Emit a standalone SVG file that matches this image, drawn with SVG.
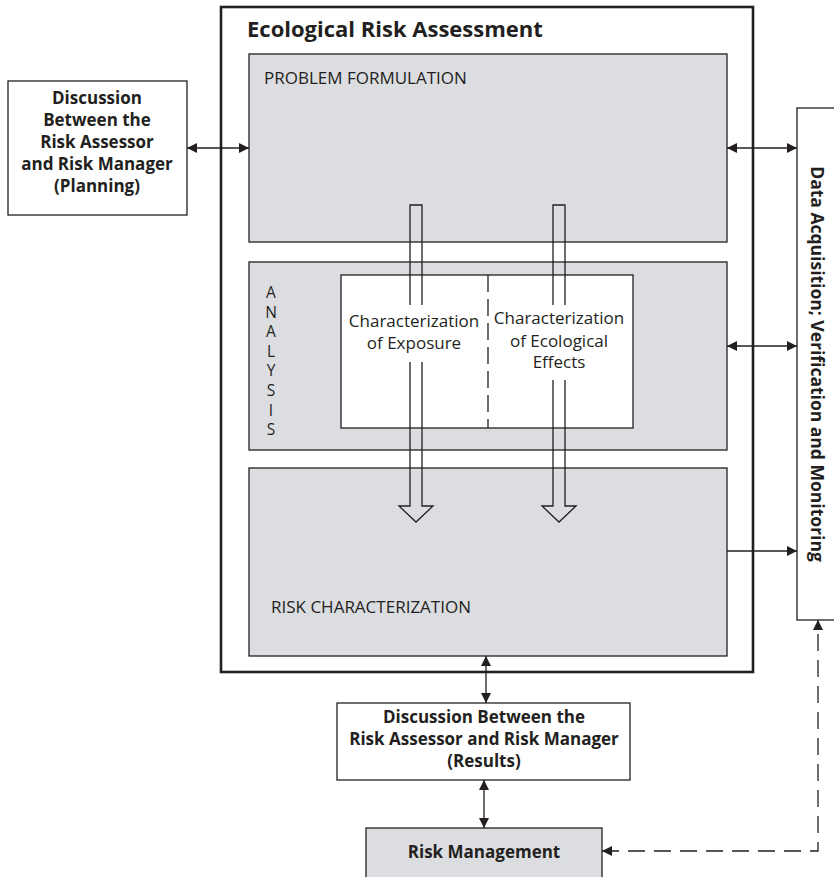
<svg xmlns="http://www.w3.org/2000/svg" width="834" height="877" viewBox="0 0 834 877">
<style>
text{font-family:"Open Sans","Liberation Sans",sans-serif;fill:#231f20}
.b{font-weight:bold;font-size:17px}
.n{font-size:17px}
.box{fill:#fff;stroke:#231f20;stroke-width:1.3}
.g{fill:#dcdde0;stroke:#231f20;stroke-width:1.3}
.ln{fill:none;stroke:#231f20;stroke-width:1.3}
</style>
<defs>
<marker id="ah" viewBox="0 0 10 10" refX="10" refY="5" markerWidth="10" markerHeight="10" markerUnits="userSpaceOnUse" orient="auto-start-reverse">
<path d="M0,0 L10,5 L0,10 Z" fill="#231f20"/>
</marker>
</defs>
<rect x="0" y="0" width="834" height="877" fill="#fff"/>

<g id="outer">
<rect x="221" y="7" width="532" height="665" fill="#fff" stroke="#231f20" stroke-width="2.6"/>
<text x="247" y="37" style="font-weight:bold;font-size:22px">Ecological Risk Assessment</text>
</g>

<g id="problem-formulation">
<rect class="g" x="249" y="54" width="478" height="188"/>
<text class="n" x="264" y="84">PROBLEM FORMULATION</text>
</g>

<g id="analysis">
<rect class="g" x="249" y="262" width="478" height="188"/>
<text x="271" y="281" style="font-size:15.5px;writing-mode:vertical-rl;text-orientation:upright;letter-spacing:-2.4px">ANALYSIS</text>
<rect class="box" x="341" y="275" width="292" height="153"/>
<line x1="488" y1="275" x2="488" y2="428" stroke="#231f20" stroke-width="1.3" stroke-dasharray="17,7"/>
</g>

<g id="exposure">
<text class="n" x="414" y="327" text-anchor="middle">Characterization</text>
<text class="n" x="414" y="349" text-anchor="middle">of Exposure</text>
</g>

<g id="effects">
<text class="n" x="559" y="324" text-anchor="middle">Characterization</text>
<text class="n" x="559" y="347" text-anchor="middle">of Ecological</text>
<text class="n" x="559" y="368" text-anchor="middle">Effects</text>
</g>

<g id="risk-characterization">
<rect class="g" x="249" y="468" width="478" height="188"/>
<text class="n" x="271" y="613">RISK CHARACTERIZATION</text>
</g>

<g id="planning">
<rect class="box" x="8" y="81" width="179" height="134"/>
<g class="b" text-anchor="middle">
<text x="97" y="104">Discussion</text>
<text x="97" y="126">Between the</text>
<text x="97" y="148">Risk Assessor</text>
<text x="97" y="170">and Risk Manager</text>
<text x="97" y="192">(Planning)</text>
</g>
</g>

<g id="data-acquisition">
<rect class="box" x="797" y="108" width="60" height="512"/>
<text class="b" x="0" y="0" text-anchor="middle" transform="translate(811,364) rotate(90)" style="font-size:17.5px">Data Acquisition; Verification and Monitoring</text>
</g>

<g id="results">
<rect class="box" x="337" y="703" width="293" height="77"/>
<g class="b" text-anchor="middle">
<text x="484" y="723">Discussion Between the</text>
<text x="484" y="745">Risk Assessor and Risk Manager</text>
<text x="484" y="767">(Results)</text>
</g>
</g>

<g id="risk-management">
<rect class="g" x="366" y="828" width="236" height="60"/>
<text class="b" x="484" y="858" text-anchor="middle">Risk Management</text>
</g>

<g id="connectors">
<path class="ln" d="M410,305 V205 H422 V305 M410,362 V506 H399 L416,522 L433,506 H422 V362"/>
<path class="ln" d="M553,305 V205 H565 V305 M553,380 V506 H542 L559,522 L576,506 H565 V380"/>
<line class="ln" x1="187" y1="148" x2="249" y2="148" marker-start="url(#ah)" marker-end="url(#ah)"/>
<line class="ln" x1="727" y1="148" x2="797" y2="148" marker-start="url(#ah)" marker-end="url(#ah)"/>
<line class="ln" x1="727" y1="346" x2="797" y2="346" marker-start="url(#ah)" marker-end="url(#ah)"/>
<line class="ln" x1="727" y1="551" x2="797" y2="551" marker-end="url(#ah)"/>
<line class="ln" x1="486" y1="656" x2="486" y2="703" marker-start="url(#ah)" marker-end="url(#ah)"/>
<line class="ln" x1="484" y1="780" x2="484" y2="828" marker-start="url(#ah)" marker-end="url(#ah)"/>
<path class="ln" d="M602,851 H818 V620" stroke-dasharray="17,9" marker-start="url(#ah)" marker-end="url(#ah)"/>
</g>
</svg>
